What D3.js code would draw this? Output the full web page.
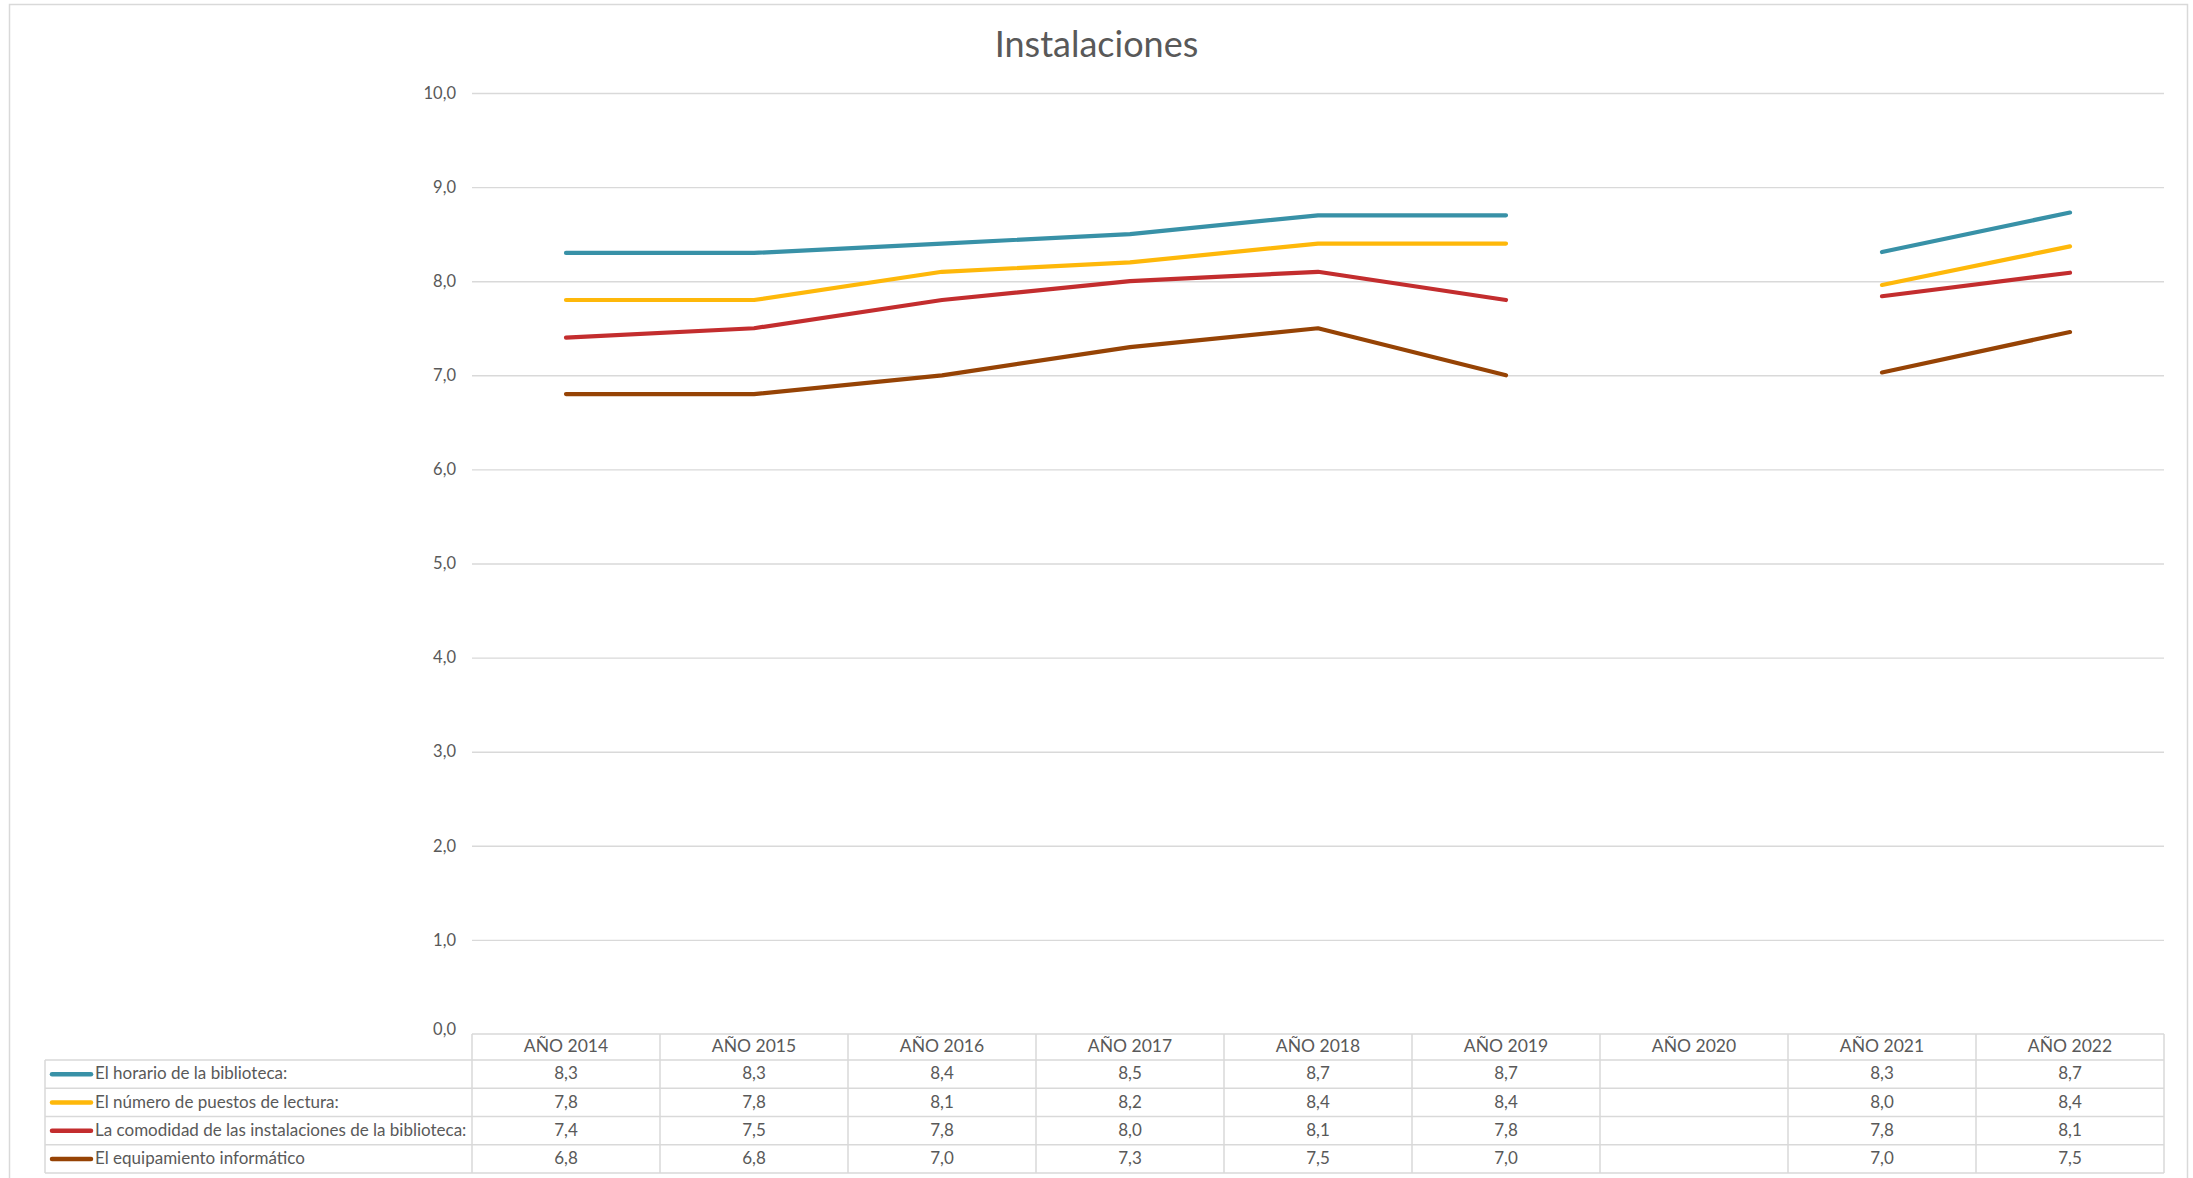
<!DOCTYPE html>
<html lang="es">
<head>
<meta charset="utf-8">
<title>Instalaciones</title>
<script src="https://cdn.jsdelivr.net/npm/d3@7/dist/d3.min.js"></script>
<style>
  html, body { margin: 0; padding: 0; background: #ffffff; }
  svg { display: block; }
  text { font-family: Lato, "Open Sans", "DejaVu Sans", sans-serif; fill: #595959; }
</style>
</head>
<body>
<svg id="chart" width="2193" height="1178"></svg>
<script>
// Survey scores (0-10) for library facilities, by year; 2020 has no survey.
const years = ["AÑO 2014", "AÑO 2015", "AÑO 2016", "AÑO 2017", "AÑO 2018", "AÑO 2019", "AÑO 2020", "AÑO 2021", "AÑO 2022"];
const seriesNames = [
  "El horario de la biblioteca:",
  "El número de puestos de lectura:",
  "La comodidad de las instalaciones de la biblioteca:",
  "El equipamiento informático"
];
const horario     = [8.3, 8.3, 8.4, 8.5, 8.7, 8.7, null, 8.31, 8.73];
const puestos     = [7.8, 7.8, 8.1, 8.2, 8.4, 8.4, null, 7.96, 8.37];
const comodidad   = [7.4, 7.5, 7.8, 8.0, 8.1, 7.8, null, 7.84, 8.09];
const equipamiento = [6.8, 6.8, 7.0, 7.3, 7.5, 7.0, null, 7.03, 7.46];
const yTicks = [0, 1, 2, 3, 4, 5, 6, 7, 8, 9, 10];
const colors = ["#3891A7", "#FEB80A", "#C32D2E", "#964305"];

const seriesValues = [horario, puestos, comodidad, equipamiento];

const svg = d3.select("#chart");
const W = 2193, H = 1178;
const gridColor = "#d9d9d9";
const es = d3.formatLocale({ decimal: ",", thousands: ".", grouping: [3], currency: ["", " €"] });
const fmt = es.format(".1f");

// Background and outer chart border
svg.append("rect").attr("width", W).attr("height", H).attr("fill", "#ffffff");
svg.append("rect")
  .attr("x", 9.5).attr("y", 4.5).attr("width", 2178).attr("height", H + 20)
  .attr("fill", "none").attr("stroke", gridColor).attr("stroke-width", 1.5);

// Title
svg.append("text")
  .attr("x", W / 2).attr("y", 57)
  .attr("text-anchor", "middle")
  .style("font-size", "36px")
  .text("Instalaciones");

// Scales
const plotLeft = 472, plotRight = 2164;
const x = d3.scaleBand().domain(years).range([plotLeft, plotRight]).padding(0);
const y = d3.scaleLinear().domain([0, 10]).range([1034, 93]);

// Horizontal gridlines + value axis labels
const yAxis = d3.axisLeft(y)
  .tickValues(yTicks)
  .tickSize(-(plotRight - plotLeft))
  .tickPadding(16)
  .tickFormat(fmt);
const gy = svg.append("g").attr("transform", `translate(${plotLeft},0)`).call(yAxis);
gy.select(".domain").remove();
gy.selectAll(".tick line")
  .attr("stroke", gridColor).attr("stroke-width", 1.4)
  .filter(d => d === 0).remove();
gy.selectAll(".tick text")
  .attr("fill", "#595959")
  .style("font-size", "16.5px")
  .style("font-family", "Lato, 'Open Sans', sans-serif");
gy.selectAll(".tick").filter(d => d === 0).select("text").attr("dy", "0.05em");

// Lines (gaps where a year has no data)
const line = d3.line()
  .defined(d => d.v != null)
  .x(d => x(d.year) + x.bandwidth() / 2)
  .y(d => y(d.v));

seriesValues.forEach((vals, i) => {
  const pts = years.map((yr, j) => ({ year: yr, v: vals[j] }));
  svg.append("path")
    .datum(pts)
    .attr("d", line)
    .attr("fill", "none")
    .attr("stroke", colors[i])
    .attr("stroke-width", 4.2)
    .attr("stroke-linecap", "round")
    .attr("stroke-linejoin", "round");
});

// Data table under the plot
const tableLeft = 45;
const headerTop = 1034, headerBottom = 1060;
const rowEdges = [1060, 1088.25, 1116.5, 1144.75, 1173];
const tbl = svg.append("g");
const border = sel => sel.attr("stroke", gridColor).attr("stroke-width", 1.5).attr("fill", "none");

// header top line
tbl.append("line").attr("x1", plotLeft).attr("x2", plotRight).attr("y1", headerTop).attr("y2", headerTop).call(border);
// row lines
rowEdges.forEach(ry => {
  tbl.append("line").attr("x1", tableLeft).attr("x2", plotRight).attr("y1", ry).attr("y2", ry).call(border);
});
// vertical lines
tbl.append("line").attr("x1", tableLeft).attr("x2", tableLeft).attr("y1", rowEdges[0]).attr("y2", rowEdges[4]).call(border);
years.forEach(yr => {
  tbl.append("line").attr("x1", x(yr)).attr("x2", x(yr)).attr("y1", headerTop).attr("y2", rowEdges[4]).call(border);
});
tbl.append("line").attr("x1", plotRight).attr("x2", plotRight).attr("y1", headerTop).attr("y2", rowEdges[4]).call(border);

// header labels
years.forEach(yr => {
  tbl.append("text")
    .attr("x", x(yr) + x.bandwidth() / 2)
    .attr("y", (headerTop + headerBottom) / 2 + 1)
    .attr("text-anchor", "middle")
    .attr("dominant-baseline", "middle")
    .style("font-size", "17.5px")
    .text(yr);
});

// rows: legend key, series name, values
seriesNames.forEach((name, i) => {
  const cy = (rowEdges[i] + rowEdges[i + 1]) / 2;
  tbl.append("line")
    .attr("x1", 52).attr("x2", 91).attr("y1", cy).attr("y2", cy)
    .attr("stroke", colors[i]).attr("stroke-width", 4.5).attr("stroke-linecap", "round");
  tbl.append("text")
    .attr("x", 95).attr("y", cy + 1)
    .attr("dominant-baseline", "middle")
    .style("font-size", "17px")
    .text(name);
  years.forEach((yr, j) => {
    const v = seriesValues[i][j];
    if (v == null) return;
    tbl.append("text")
      .attr("x", x(yr) + x.bandwidth() / 2)
      .attr("y", cy + 1)
      .attr("text-anchor", "middle")
      .attr("dominant-baseline", "middle")
      .style("font-size", "17px")
      .text(fmt(v));
  });
});
</script>
</body>
</html>
